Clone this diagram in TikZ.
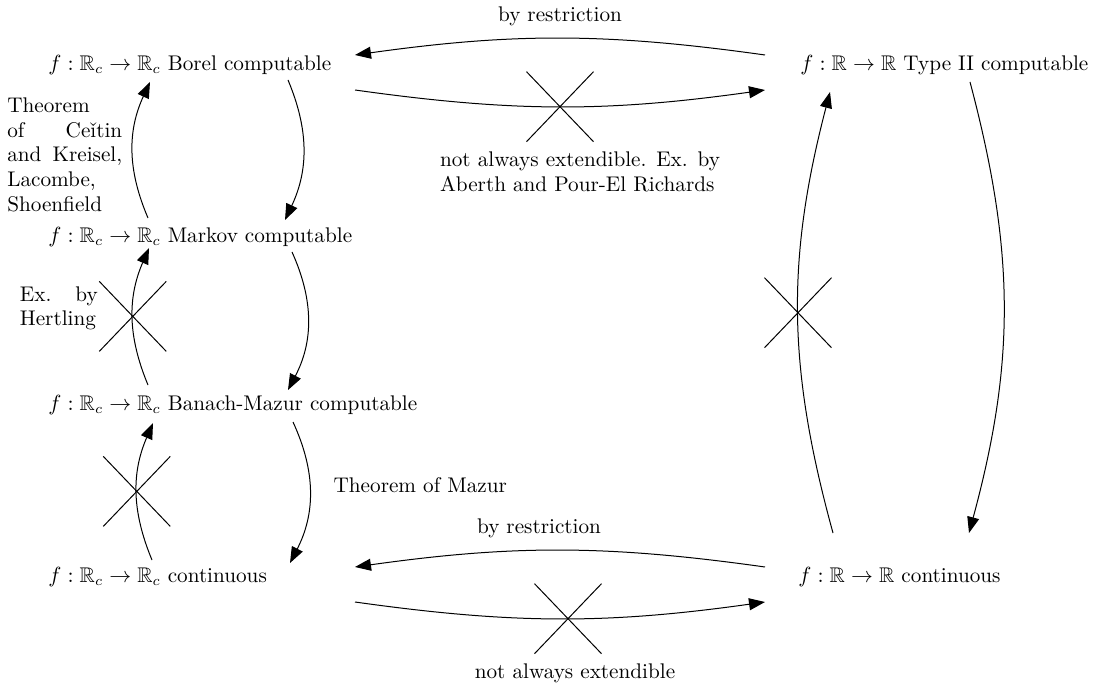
\documentclass[tikz,border=0pt]{standalone}
\usepackage{amssymb}
\usetikzlibrary{arrows.meta,shapes.misc,positioning}
\begin{document}
\begin{tikzpicture}[x=0.5pt,y=-0.5pt,
  every node/.style={inner sep=0pt, font=\fontsize{10.6}{12.4}\selectfont},
  lbl/.style={anchor=west},
  arr/.style={-{Triangle[length=8pt,width=6pt]}, line width=0.5pt},
  crossx/.style={cross out, draw, line width=0.5pt, minimum width=33pt, minimum height=34.5pt},
  note/.style={align=justify}
]
\useasboundingbox (0,0) rectangle (1097,689);

% nodes
\node[lbl] (borel)  at (48,65)  {$f:\mathbb{R}_c\to\mathbb{R}_c$ Borel computable};
\node[lbl] (markov) at (48,237) {$f:\mathbb{R}_c\to\mathbb{R}_c$ Markov computable};
\node[lbl] (banach) at (48,405) {$f:\mathbb{R}_c\to\mathbb{R}_c$ Banach-Mazur computable};
\node[lbl] (cont)   at (48,577) {$f:\mathbb{R}_c\to\mathbb{R}_c$ continuous};
\node[lbl] (typeii) at (800,65) {$f:\mathbb{R}\to\mathbb{R}$ Type II computable};
\node[lbl] (rcont)  at (798,577) {$f:\mathbb{R}\to\mathbb{R}$ continuous};

% top horizontal pair
\draw[arr] ([shift={(-35,-10)}]typeii.west) to[bend right=8]
  node[above=6pt] (l1) {by restriction}
  ([shift={(307,-10)}]borel.west);
\draw[arr] ([shift={(307,25)}]borel.west) to[bend right=8]
  node[crossx] (x1) {}
  ([shift={(-35,25)}]typeii.west);
\node[note, text width=140pt, below=5pt of x1, xshift=10pt] (l2)
  {not always extendible. Ex. by\linebreak Aberth and Pour-El Richards};

% left column
\draw[arr] ([shift={(240,15)}]borel.west) to[bend left=24]
  ([shift={(237,-17)}]markov.west);
\draw[arr] ([shift={(100,-19)}]markov.west) to[bend left=24]
  node[note, text width=57.5pt, left=5pt, yshift=-2.5pt] (l3)
  {Theorem\linebreak of Ce\v{\i}tin\linebreak and Kreisel,\linebreak Lacombe,\linebreak Shoenfield}
  ([shift={(102,17)}]borel.west);

\draw[arr] ([shift={(244,15)}]markov.west) to[bend left=26]
  ([shift={(240,-15)}]banach.west);
\draw[arr] ([shift={(100,-20)}]banach.west) to[bend left=23]
  node[crossx] (x2) {}
  ([shift={(101,11)}]markov.west);
\node[note, text width=39pt, left=0.5pt of x2, yshift=4pt] (l4) {Ex. by\linebreak Hertling};

\draw[arr] ([shift={(245,17)}]banach.west) to[bend left=26]
  node[right=11.75pt, yshift=3.75pt] (l5) {Theorem of Mazur}
  ([shift={(242,-14)}]cont.west);
\draw[arr] ([shift={(104,-17)}]cont.west) to[bend left=23]
  node[crossx] (x3) {}
  ([shift={(105,18)}]banach.west);

% bottom horizontal pair
\draw[arr] ([shift={(-33,-10)}]rcont.west) to[bend right=8]
  node[above=6pt, xshift=-10.5pt] (l6) {by restriction}
  ([shift={(307,-10)}]cont.west);
\draw[arr] ([shift={(307,25)}]cont.west) to[bend right=8]
  node[crossx, xshift=4pt] (x4) {}
  ([shift={(-33,25)}]rcont.west);
\node[below=5pt of x4, xshift=3.5pt] (l7) {not always extendible};

% right column
\draw[arr] ([shift={(170,17)}]typeii.west) to[bend left=15]
  ([shift={(171,-44)}]rcont.west);
\draw[arr] ([shift={(35,-44)}]rcont.west) to[bend left=15]
  node[crossx] (x5) {}
  ([shift={(30,27)}]typeii.west);
\end{tikzpicture}
\end{document}
